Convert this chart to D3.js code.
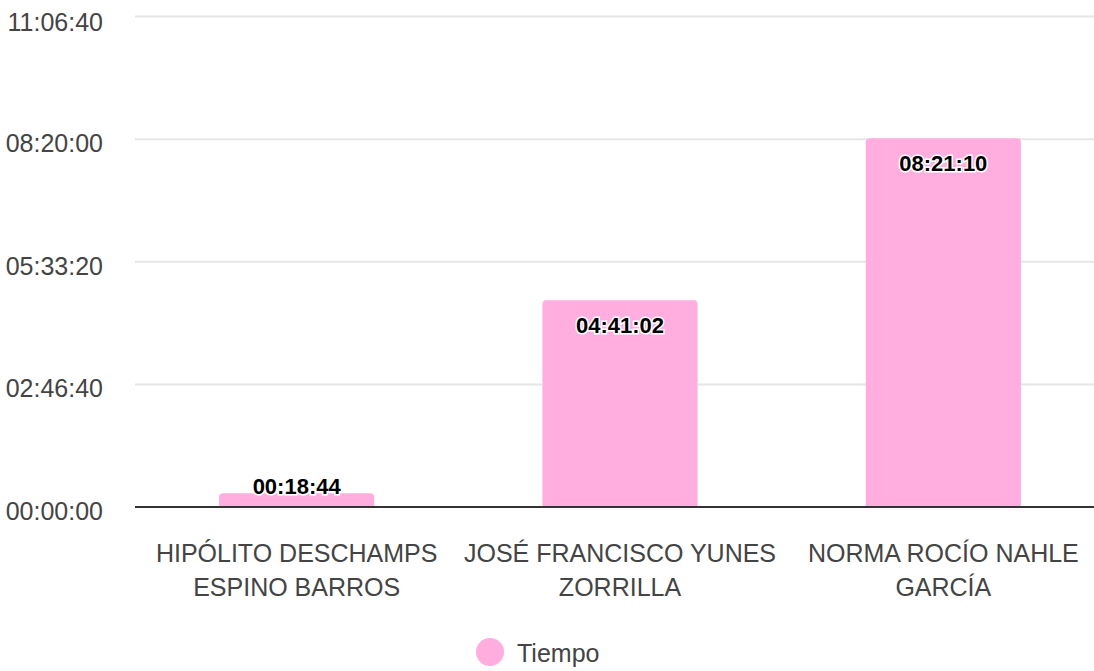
<!DOCTYPE html>
<html>
<head>
<meta charset="utf-8">
<script src="https://cdn.jsdelivr.net/npm/d3@7"></script>
<style>
  body { margin: 0; background: #fff; }
  svg { display: block; font-family: "Liberation Sans", Arial, sans-serif; }
</style>
</head>
<body>
<svg id="chart"></svg>
<script>
// chart size
var width = 1094;
var height = 671;

// Data (seconds)
var categories = ["HIPÓLITO DESCHAMPS ESPINO BARROS", "JOSÉ FRANCISCO YUNES ZORRILLA", "NORMA ROCÍO NAHLE GARCÍA"];
var tiempo = [1124, 16862, 30070];
var tickValues = [0, 10000, 20000, 30000, 40000];
var seriesName = "Tiempo";
var barColor = "#ffaedf";

function fmt(s) {
    var h = Math.floor(s / 3600), m = Math.floor((s % 3600) / 60), sec = s % 60;
    return d3.format("02")(h) + ":" + d3.format("02")(m) + ":" + d3.format("02")(sec);
}

var svg = d3.select("#chart")
    .attr("width", width)
    .attr("height", height);

var xScale = d3.scaleBand()
    .domain(categories)
    .range([135, 1105])
    .paddingInner(0.52)
    .paddingOuter(0.26);

var yScale = d3.scaleLinear()
    .domain([0, 40000])
    .range([507, 16.5]);

// gridlines
svg.append("g")
    .selectAll("line")
    .data(tickValues.filter(d => d > 0))
    .join("line")
    .attr("x1", 135)
    .attr("x2", 1094)
    .attr("y1", d => yScale(d))
    .attr("y2", d => yScale(d))
    .attr("stroke", "#e6e6e6")
    .attr("stroke-width", 2);

// y labels
svg.append("g")
    .selectAll("text")
    .data(tickValues)
    .join("text")
    .attr("x", 103)
    .attr("y", d => Math.max(yScale(d) + 13, 30.5))
    .attr("text-anchor", "end")
    .attr("font-size", 25)
    .attr("fill", "#444")
    .text(d => fmt(d));

// bars, rounded top
var r = 4;
svg.append("g")
    .selectAll("path")
    .data(tiempo)
    .join("path")
    .attr("fill", barColor)
    .attr("d", (d, i) => {
        var x0 = xScale(categories[i]), w = xScale.bandwidth();
        var y0 = yScale(d), y1 = yScale(0);
        var rr = Math.min(r, (y1 - y0));
        return "M" + x0 + "," + y1 +
            "V" + (y0 + rr) +
            "Q" + x0 + "," + y0 + " " + (x0 + rr) + "," + y0 +
            "H" + (x0 + w - rr) +
            "Q" + (x0 + w) + "," + y0 + " " + (x0 + w) + "," + (y0 + rr) +
            "V" + y1 + "Z";
    });

// baseline
svg.append("line")
    .attr("x1", 135)
    .attr("x2", 1094)
    .attr("y1", yScale(0))
    .attr("y2", yScale(0))
    .attr("stroke", "#333")
    .attr("stroke-width", 2);

// value labels
svg.append("g")
    .selectAll("text")
    .data(tiempo)
    .join("text")
    .attr("x", (d, i) => xScale(categories[i]) + xScale.bandwidth() / 2)
    .attr("y", d => {
        var top = yScale(d);
        return (yScale(0) - top > 40) ? top + 33 : top + 1;
    })
    .attr("text-anchor", "middle")
    .attr("font-size", 22)
    .attr("font-weight", "bold")
    .attr("fill", "#000")
    .attr("stroke", "#fff")
    .attr("stroke-width", 3)
    .attr("paint-order", "stroke")
    .text(d => fmt(d));

// category labels, wrapped
var catG = svg.append("g");
categories.forEach(function(c) {
    var cx = xScale(c) + xScale.bandwidth() / 2;
    var words = c.split(" "), lines = [], cur = [];
    var probe = catG.append("text").attr("font-size", 25);
    words.forEach(function(w) {
        var test = cur.concat([w]).join(" ");
        probe.text(test);
        if (probe.node().getComputedTextLength() > 322 && cur.length) {
            lines.push(cur.join(" "));
            cur = [w];
        } else {
            cur.push(w);
        }
    });
    lines.push(cur.join(" "));
    probe.remove();
    var t = catG.append("text")
        .attr("text-anchor", "middle")
        .attr("font-size", 25)
        .attr("fill", "#444");
    lines.forEach(function(l, j) {
        t.append("tspan")
            .attr("x", cx)
            .attr("y", 562 + j * 34)
            .text(l);
    });
});

// legend
var legend = svg.append("g");
legend.append("circle")
    .attr("cx", 490)
    .attr("cy", 652)
    .attr("r", 14)
    .attr("fill", barColor);
legend.append("text")
    .attr("x", 517)
    .attr("y", 662)
    .attr("font-size", 25)
    .attr("fill", "#444")
    .text(seriesName);
</script>
</body>
</html>
